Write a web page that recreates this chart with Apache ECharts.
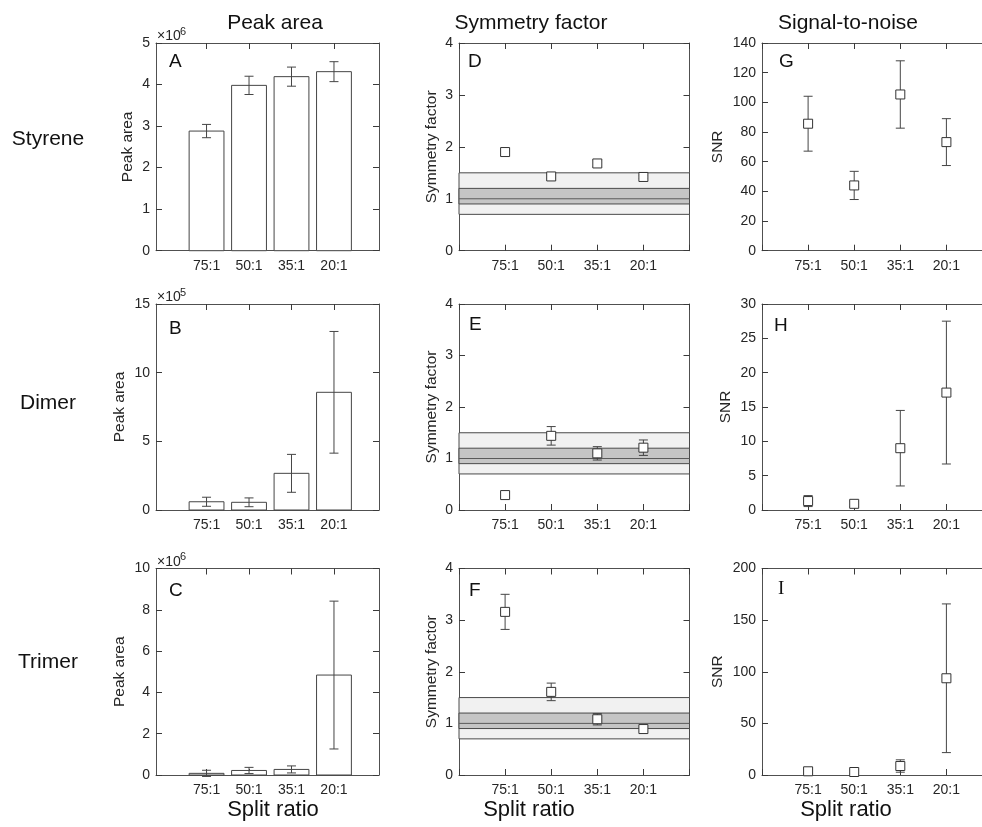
<!DOCTYPE html>
<html>
<head>
<meta charset="utf-8">
<script src="https://cdn.jsdelivr.net/npm/echarts@6/dist/echarts.min.js"></script>
<style>
html,body{margin:0;padding:0;background:#fff;}
#chart{width:982px;height:827px;}
</style>
</head>
<body>
<div id="chart"></div>
<script>
// ---------------- DATA ----------------
const categories = ['75:1', '50:1', '35:1', '20:1'];
const xPositions = [1, 2, 3, 4];

const rowNames = ['Styrene', 'Dimer', 'Trimer'];
const columnTitles = ['Peak area', 'Symmetry factor', 'Signal-to-noise'];
const xAxisTitle = 'Split ratio';
const panelLetters = ['A', 'D', 'G', 'B', 'E', 'H', 'C', 'F', 'I'];

// Peak area (in units of the exponent shown on the axis)
const peakExponents = [6, 5, 6];
const styrenePeak = [2.88, 3.98, 4.19, 4.31];
const styrenePeakErr = [0.16, 0.22, 0.23, 0.24];
const dimerPeak = [0.60, 0.56, 2.67, 8.57];
const dimerPeakErr = [0.33, 0.32, 1.38, 4.43];
const trimerPeak = [0.08, 0.22, 0.27, 4.84];
const trimerPeakErr = [0.15, 0.15, 0.17, 3.58];

// Symmetry factor
const styreneSym = [1.90, 1.43, 1.68, 1.42];
const styreneSymErr = [0.07, 0.03, 0.06, 0.03];
const dimerSym = [0.29, 1.44, 1.10, 1.21];
const dimerSymErr = [0.05, 0.18, 0.13, 0.15];
const trimerSym = [3.16, 1.61, 1.08, 0.89];
const trimerSymErr = [0.34, 0.17, 0.11, 0.04];
const symBandOuter = [0.7, 1.5];
const symBandInner = [0.9, 1.2];
const symTarget = 1.0;

// Signal-to-noise
const styreneSNR = [85.6, 44.0, 105.3, 73.2];
const styreneSNRErr = [18.5, 9.5, 22.7, 15.8];
const dimerSNR = [1.3, 0.9, 9.0, 17.1];
const dimerSNRErr = [0.8, 0.4, 5.5, 10.4];
const trimerSNR = [3.6, 2.9, 8.7, 93.7];
const trimerSNRErr = [2.0, 2.0, 6.0, 72.0];

// Y-axis ticks: max and step per panel (row-major: A, D, G, B, E, H, C, F, I)
const yMaxes = [5, 4, 140, 15, 4, 30, 10, 4, 200];
const yIntervals = [1, 1, 20, 5, 1, 5, 2, 1, 50];
const yTitles = ['Peak area', 'Symmetry factor', 'SNR'];

// --------------- LAYOUT ---------------
const FONT = '"Liberation Sans", Arial, Helvetica, sans-serif';
const TXT = '#262626';
const AX = '#505050';
const EDGE = '#454545';

const colLeft = [156, 459, 762];
const colWidth = [223, 230.5, 230.5];
const colXRange = [[-0.19, 5.06], [0, 5], [0, 5]];
const rowTop = [43, 304, 568.5];
const rowHeight = [207.7, 206, 206.5];
const nameGaps = [20, 19, 36.5, 28.5, 19, 28.2, 28.5, 19, 36.2];
const letterPos = [[169,61.5],[468,61.7],[779,61.5],[169,328.3],[469,325],[774,325.5],[169,591],[469,591],[778,588.7]];

const peakData = [[styrenePeak, styrenePeakErr], [dimerPeak, dimerPeakErr], [trimerPeak, trimerPeakErr]];
const symData = [[styreneSym, styreneSymErr], [dimerSym, dimerSymErr], [trimerSym, trimerSymErr]];
const snrData = [[styreneSNR, styreneSNRErr], [dimerSNR, dimerSNRErr], [trimerSNR, trimerSNRErr]];

const option = {
  animation: false,
  backgroundColor: '#fff',
  grid: [], xAxis: [], yAxis: [], series: [], graphic: []
};

function errRender(params, api) {
  const x = api.value(0), lo = api.value(1), hi = api.value(2);
  const a = api.coord([x, hi]), b = api.coord([x, lo]);
  const w = 4.5;
  const st = {stroke: EDGE, lineWidth: 1, fill: null};
  return {type: 'group', children: [
    {type: 'line', shape: {x1: a[0], y1: a[1], x2: b[0], y2: b[1]}, style: st},
    {type: 'line', shape: {x1: a[0]-w, y1: a[1], x2: a[0]+w, y2: a[1]}, style: st},
    {type: 'line', shape: {x1: b[0]-w, y1: b[1], x2: b[0]+w, y2: b[1]}, style: st}
  ]};
}

function tickStyle() { return {show: true, inside: true, length: 6, lineStyle: {color: '#3a3a3a', width: 1}}; }

for (let r = 0; r < 3; r++) {
  for (let c = 0; c < 3; c++) {
    const k = r * 3 + c;
    const [xmin, xmax] = colXRange[c];
    const integerRange = (xmin === 0);
    option.grid.push({left: colLeft[c], top: rowTop[r], width: colWidth[c], height: rowHeight[r],
      containLabel: false, outerBoundsMode: 'none'});
    const xCommon = {type: 'value', gridIndex: k, min: xmin, max: xmax,
      axisLine: {show: true, onZero: false, lineStyle: {color: AX, width: 1}},
      splitLine: {show: false}};
    if (integerRange) xCommon.interval = 1;
    option.xAxis.push(Object.assign({}, xCommon, {position: 'bottom',
      axisTick: integerRange ? tickStyle() : {show: false},
      axisLabel: {show: true, customValues: xPositions, margin: 8, fontSize: 14, color: TXT, fontFamily: FONT,
        formatter: v => categories[Math.round(v) - 1] || ''}
    }));
    option.xAxis.push(Object.assign({}, xCommon, {position: 'top',
      axisTick: integerRange ? tickStyle() : {show: false},
      axisLabel: {show: false}
    }));
    const yCommon = {type: 'value', gridIndex: k, min: 0, max: yMaxes[k], interval: yIntervals[k],
      axisLine: {show: true, onZero: false, lineStyle: {color: AX, width: 1}},
      splitLine: {show: false}};
    option.yAxis.push(Object.assign({}, yCommon, {position: 'left', axisTick: tickStyle(),
      axisLabel: {show: true, margin: 6, fontSize: 14, color: TXT, fontFamily: FONT},
      name: yTitles[c], nameLocation: 'middle', nameGap: nameGaps[k],
      nameTextStyle: {fontSize: 15.5, color: TXT, fontFamily: FONT}
    }));
    option.yAxis.push(Object.assign({}, yCommon, {position: 'right', axisTick: tickStyle(), axisLabel: {show: false}}));

    const xi = 2 * k, yi = 2 * k;
    let vals, errs;
    if (c === 0) { [vals, errs] = peakData[r]; }
    else if (c === 1) { [vals, errs] = symData[r]; }
    else { [vals, errs] = snrData[r]; }

    if (c === 1) {
      option.series.push({
        type: 'custom', xAxisIndex: xi, yAxisIndex: yi, z: 1, silent: true,
        data: [[symBandOuter[0], symBandOuter[1], 0], [symBandInner[0], symBandInner[1], 1]],
        renderItem: (params, api) => {
          const lo = api.value(0), hi = api.value(1), t = api.value(2);
          const p1 = api.coord([xmin, hi]), p2 = api.coord([xmax, lo]);
          return {type: 'rect', shape: {x: p1[0], y: p1[1], width: p2[0]-p1[0], height: p2[1]-p1[1]},
            style: {fill: t === 0 ? '#f1f1f1' : '#c5c5c5', stroke: '#4a4a4a', lineWidth: 1}};
        }
      });
      option.series.push({
        type: 'custom', xAxisIndex: xi, yAxisIndex: yi, z: 2, silent: true,
        data: [[symTarget]],
        renderItem: (params, api) => {
          const v = api.value(0);
          const p1 = api.coord([xmin, v]), p2 = api.coord([xmax, v]);
          return {type: 'line', shape: {x1: p1[0], y1: p1[1], x2: p2[0], y2: p2[1]},
            style: {stroke: '#5a5a5a', lineWidth: 1}};
        }
      });
    }

    if (c === 0) {
      option.series.push({
        type: 'custom', xAxisIndex: xi, yAxisIndex: yi, z: 3, silent: true,
        data: xPositions.map((x, i) => [x, vals[i]]),
        renderItem: (params, api) => {
          const x = api.value(0), v = api.value(1);
          const p1 = api.coord([x - 0.41, v]), p2 = api.coord([x + 0.41, 0]);
          return {type: 'rect', shape: {x: p1[0], y: p1[1], width: p2[0]-p1[0], height: p2[1]-p1[1]},
            style: {fill: '#fff', stroke: EDGE, lineWidth: 1}};
        }
      });
    }

    option.series.push({
      type: 'custom', xAxisIndex: xi, yAxisIndex: yi, z: 4, silent: true,
      data: xPositions.map((x, i) => [x, vals[i] - errs[i], vals[i] + errs[i]]),
      renderItem: errRender
    });

    if (c > 0) {
      option.series.push({
        type: 'scatter', xAxisIndex: xi, yAxisIndex: yi, z: 5, silent: true,
        symbol: 'rect', symbolSize: 9,
        itemStyle: {color: '#fff', borderColor: '#333', borderWidth: 1, opacity: 1},
        data: xPositions.map((x, i) => [x, vals[i]])
      });
    }

    option.graphic.push({type: 'text', x: letterPos[k][0], y: letterPos[k][1], silent: true,
      style: {text: panelLetters[k], fontSize: 19, fill: '#111',
        fontFamily: panelLetters[k] === 'I' ? '"Liberation Serif", "Times New Roman", serif' : FONT,
        textAlign: 'left', textVerticalAlign: 'middle', verticalAlign: 'middle'}});

    if (c === 0) {
      const yTop = rowTop[r];
      option.graphic.push({type: 'text', x: 157, y: yTop - 6.5, silent: true,
        style: {text: '\u00d710', fontSize: 14, fill: TXT, fontFamily: FONT, textAlign: 'left', verticalAlign: 'middle', textVerticalAlign: 'middle'}});
      option.graphic.push({type: 'text', x: 180, y: yTop - 11.5, silent: true,
        style: {text: String(peakExponents[r]), fontSize: 11, fill: TXT, fontFamily: FONT, textAlign: 'left', verticalAlign: 'middle', textVerticalAlign: 'middle'}});
    }
  }
}

// Tick-only axes for the bar column (its x-range does not start on an integer):
// an overlay grid spanning category positions 1..4 of the same scale.
const unit0 = colWidth[0] / (colXRange[0][1] - colXRange[0][0]);
for (let r = 0; r < 3; r++) {
  const g = option.grid.length;
  option.grid.push({left: colLeft[0] + (xPositions[0] - colXRange[0][0]) * unit0,
    width: (xPositions[3] - xPositions[0]) * unit0, top: rowTop[r], height: rowHeight[r],
    containLabel: false, outerBoundsMode: 'none'});
  ['bottom', 'top'].forEach(pos => {
    option.xAxis.push({type: 'value', gridIndex: g, position: pos, min: xPositions[0], max: xPositions[3], interval: 1,
      axisLine: {show: false}, axisTick: tickStyle(), axisLabel: {show: false}, splitLine: {show: false}});
  });
  option.yAxis.push({type: 'value', gridIndex: g, min: 0, max: 1, show: false});
}

const colTitleX = [275, 531, 848];
columnTitles.forEach((t, c) => {
  option.graphic.push({type: 'text', x: colTitleX[c], y: 23.5, silent: true,
    style: {text: t, fontSize: 21, fill: '#111', fontFamily: FONT, textAlign: 'center', verticalAlign: 'middle', textVerticalAlign: 'middle'}});
  option.graphic.push({type: 'text', x: colTitleX[c] - 2, y: 810, silent: true,
    style: {text: xAxisTitle, fontSize: 22, fill: '#111', fontFamily: FONT, textAlign: 'center', verticalAlign: 'middle', textVerticalAlign: 'middle'}});
});
const rowNameY = [139, 403, 662];
rowNames.forEach((t, r) => {
  option.graphic.push({type: 'text', x: 48, y: rowNameY[r], silent: true,
    style: {text: t, fontSize: 21, fill: '#111', fontFamily: FONT, textAlign: 'center', verticalAlign: 'middle', textVerticalAlign: 'middle'}});
});

const chart = echarts.init(document.getElementById('chart'), null, {renderer: 'canvas'});
chart.setOption(option);
</script>
</body>
</html>
